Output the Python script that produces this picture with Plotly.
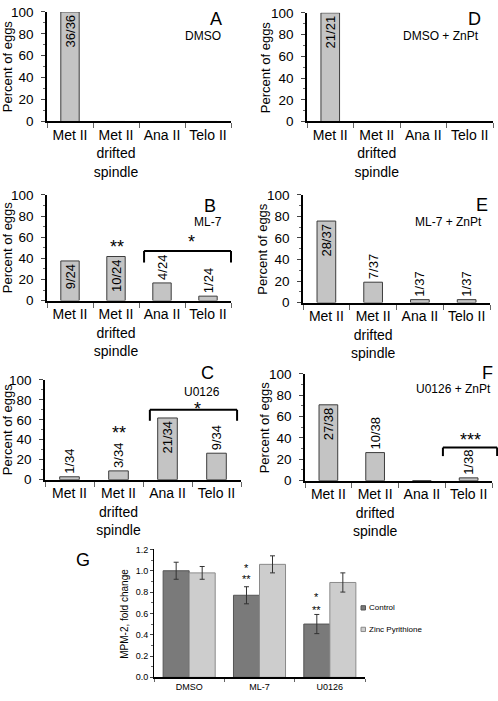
import plotly.graph_objects as go

W, H = 498, 701
FONT = "Liberation Sans, Arial, sans-serif"

# ---------------- data ----------------
stage_labels = ["Met II", "Met II<br>drifted<br>spindle", "Ana II", "Telo II"]

pct_A = [100.0, 0.0, 0.0, 0.0]
cnt_A = ["36/36", "", "", ""]
pct_D = [100.0, 0.0, 0.0, 0.0]
cnt_D = ["21/21", "", "", ""]
pct_B = [37.5, 41.7, 16.7, 4.2]
cnt_B = ["9/24", "10/24", "4/24", "1/24"]
pct_E = [75.7, 18.9, 2.7, 2.7]
cnt_E = ["28/37", "7/37", "1/37", "1/37"]
pct_C = [2.9, 8.8, 61.8, 26.5]
cnt_C = ["1/34", "3/34", "21/34", "9/34"]
pct_F = [71.1, 26.3, 0.0, 2.6]
cnt_F = ["27/38", "10/38", "", "1/38"]

treat_groups = ["DMSO", "ML-7", "U0126"]
mpm_control = [1.00, 0.77, 0.50]
mpm_control_err = [0.08, 0.08, 0.09]
mpm_zinc = [0.98, 1.06, 0.89]
mpm_zinc_err = [0.06, 0.08, 0.09]

# ---------------- helpers ----------------
def dom_x(l, r):
    return [l / W, r / W]

def dom_y(t, b):
    return [1 - b / H, 1 - t / H]

def px(xp):
    return xp / W

def py(yp):
    return 1 - yp / H

fig = go.Figure()
annotations = []
shapes = []
layout_axes = {}

panels = [
    dict(n=1, pct=pct_A, cnt=cnt_A, pos=["inside", "outside", "outside", "outside"],
         box=(47, 5, 231, 117), letter="A", lxy=(216, 12), name="DMSO", nxy=(203, 30), tx=7.5),
    dict(n=2, pct=pct_D, cnt=cnt_D, pos=["inside", "outside", "outside", "outside"],
         box=(307, 6, 493, 117), letter="D", lxy=(474, 12), name="DMSO + ZnPt", nxy=(441, 30), tx=265),
    dict(n=3, pct=pct_B, cnt=cnt_B, pos=["inside", "inside", "outside", "outside"],
         box=(47, 192, 231, 300), letter="B", lxy=(210, 203), name="ML-7", nxy=(208, 220), tx=7.5),
    dict(n=4, pct=pct_E, cnt=cnt_E, pos=["inside", "outside", "outside", "outside"],
         box=(303, 192, 490, 302), letter="E", lxy=(482, 202), name="ML-7 + ZnPt", nxy=(448, 220), tx=263),
    dict(n=5, pct=pct_C, cnt=cnt_C, pos=["outside", "outside", "inside", "outside"],
         box=(45, 381, 241, 483), letter="C", lxy=(207, 374), name="U0126", nxy=(202, 393), tx=7.5),
    dict(n=6, pct=pct_F, cnt=cnt_F, pos=["inside", "outside", "outside", "outside"],
         box=(305, 375, 492, 484), letter="F", lxy=(487, 374), name="U0126 + ZnPt", nxy=(453, 390), tx=264),
]

for p in panels:
    n = p["n"]
    xa, ya = f"x{n}", f"y{n}"
    fig.add_trace(go.Bar(
        x=stage_labels, y=p["pct"], text=p["cnt"], textposition=p["pos"],
        textangle=-90, insidetextanchor="end", constraintext="none",
        textfont=dict(family=FONT, size=13, color="black"),
        width=0.4, marker=dict(color="#c4c4c4", line=dict(color="#3c3c3c", width=1)),
        xaxis=xa, yaxis=ya, showlegend=False, cliponaxis=False, hoverinfo="skip",
    ))
    l, t, r, b = p["box"]
    layout_axes[f"xaxis{n}"] = dict(
        domain=dom_x(l, r), anchor=ya, type="category", range=[-0.5, 3.5],
        showline=True, linecolor="black", linewidth=2, ticks="outside",
        tickson="boundaries", ticklen=5, tickcolor="#666", tickwidth=1, tickangle=0,
        tickfont=dict(family=FONT, size=14, color="black"),
        showgrid=False, zeroline=False,
    )
    layout_axes[f"yaxis{n}"] = dict(
        domain=dom_y(t, b), anchor=xa, range=[0, 100], tickmode="array",
        tickvals=[0, 20, 40, 60, 80, 100], showline=True, linecolor="black",
        linewidth=1.5, ticks="outside", ticklen=4, tickcolor="#444", ticklabelstandoff=5,
        minor=dict(ticks="outside", ticklen=2, dtick=10, tickcolor="#666"),
        tickfont=dict(family=FONT, size=13.5, color="black"),
        showgrid=False, zeroline=False,
    )
    annotations.append(dict(text=p["letter"], x=px(p["lxy"][0]), y=py(p["lxy"][1]),
                            xref="paper", yref="paper", xanchor="center", yanchor="middle",
                            showarrow=False, font=dict(family=FONT, size=18, color="black")))
    annotations.append(dict(text=p["name"], x=px(p["nxy"][0]), y=py(p["nxy"][1]),
                            xref="paper", yref="paper", xanchor="center", yanchor="middle",
                            showarrow=False, font=dict(family=FONT, size=12, color="black")))
    annotations.append(dict(text="Percent of eggs", x=px(p["tx"]), y=py((t + b) / 2),
                            xref="paper", yref="paper", xanchor="center", yanchor="middle",
                            textangle=-90, showarrow=False,
                            font=dict(family=FONT, size=13, color="black")))

# significance brackets (x in category units, y in percent)
def bracket(n, x0, x1, ytop, yleg):
    xr, yr = f"x{n} domain", f"y{n} domain"
    d0, d1 = (x0 + 0.5) / 4, (x1 + 0.5) / 4
    for (a, b_, c, d) in [(d0, ytop, d1, ytop), (d0, ytop, d0, yleg), (d1, ytop, d1, yleg)]:
        shapes.append(dict(type="line", xref=xr, yref=yr, x0=a, y0=b_ / 100, x1=c, y1=d / 100,
                           line=dict(color="black", width=2)))

def star(n, x, y, s, size=18):
    annotations.append(dict(text=s, x=x, y=y, xref=f"x{n}", yref=f"y{n}", showarrow=False,
                            xanchor="center", yanchor="middle",
                            font=dict(family=FONT, size=size, color="black")))

bracket(3, 1.61, 3.5, 47, 36)
star(3, 2.65, 55, "*")
star(3, 1.02, 51, "**")
bracket(5, 1.64, 3.42, 70, 59)
star(5, 2.62, 71, "*")
star(5, 1.01, 47, "**")
bracket(6, 2.45, 3.61, 31, 23)
star(6, 3.03, 38, "***")

# ---------------- panel G ----------------
fig.add_trace(go.Bar(
    x=treat_groups, y=mpm_control, name="Control", offsetgroup="c",
    error_y=dict(type="data", array=mpm_control_err, color="#333", thickness=1, width=2.5),
    marker=dict(color="#7a7a7a", line=dict(color="#555", width=1)),
    xaxis="x7", yaxis="y7", showlegend=False, hoverinfo="skip",
))
fig.add_trace(go.Bar(
    x=treat_groups, y=mpm_zinc, name="Zinc Pyrithione", offsetgroup="z",
    error_y=dict(type="data", array=mpm_zinc_err, color="#333", thickness=1, width=2.5),
    marker=dict(color="#cdcdcd", line=dict(color="#8a8a8a", width=1)),
    xaxis="x7", yaxis="y7", showlegend=False, hoverinfo="skip",
))
layout_axes["xaxis7"] = dict(
    domain=dom_x(154, 365), anchor="y7", type="category", range=[-0.5, 2.5],
    showline=True, linecolor="black", linewidth=2, ticks="outside", tickson="boundaries",
    ticklen=3, tickcolor="#666", tickangle=0, tickfont=dict(family=FONT, size=9, color="black"),
    showgrid=False, zeroline=False,
)
layout_axes["yaxis7"] = dict(
    domain=dom_y(554.3, 685), anchor="x7", range=[0, 1.2], tickmode="array",
    tickvals=[0, 0.2, 0.4, 0.6, 0.8, 1.0, 1.2], tickformat=".1f",
    showline=True, linecolor="black", linewidth=1, ticks="outside", ticklen=3, tickcolor="#444",
    minor=dict(ticks="outside", ticklen=2, dtick=0.1, tickcolor="#666"),
    tickfont=dict(family=FONT, size=9, color="black"), showgrid=False, zeroline=False,
)
annotations.append(dict(text="MPM-2, fold change", x=px(125), y=py(620), xref="paper", yref="paper",
                        textangle=-90, showarrow=False, xanchor="center", yanchor="middle",
                        font=dict(family=FONT, size=10, color="black")))
annotations.append(dict(text="G", x=px(83), y=py(565), xref="paper", yref="paper", showarrow=False,
                        xanchor="center", yanchor="middle", font=dict(family=FONT, size=18, color="black")))
for (x, y, s) in [(0.815, 1.03, "*"), (0.815, 0.92, "**"), (1.815, 0.75, "*"), (1.815, 0.63, "**")]:
    annotations.append(dict(text=s, x=x, y=y, xref="x7", yref="y7", showarrow=False,
                            xanchor="center", yanchor="middle",
                            font=dict(family=FONT, size=11, color="black")))
# custom legend
for (yc, name, fc, lc) in [(614, "Control", "#7a7a7a", "#555"), (636, "Zinc Pyrithione", "#cdcdcd", "#8a8a8a")]:
    shapes.append(dict(type="rect", xref="paper", yref="paper", x0=px(361), x1=px(365.5),
                       y0=py(yc + 2.2), y1=py(yc - 2.2), fillcolor=fc, line=dict(color=lc, width=1)))
    annotations.append(dict(text=name, x=px(367), y=py(yc), xref="paper", yref="paper",
                            xanchor="left", yanchor="middle", showarrow=False,
                            font=dict(family=FONT, size=8, color="black")))

fig.update_layout(
    width=W, height=H, margin=dict(l=0, r=0, t=0, b=0),
    paper_bgcolor="white", plot_bgcolor="white",
    barmode="group", bargap=0.26, bargroupgap=0,
    annotations=annotations, shapes=shapes, showlegend=False,
    font=dict(family=FONT, color="black"),
    **layout_axes,
)

fig.write_html(
    "out.html",
    config={"displayModeBar": False},
    post_script="document.body.style.margin='0';document.body.style.overflow='hidden';",
)
